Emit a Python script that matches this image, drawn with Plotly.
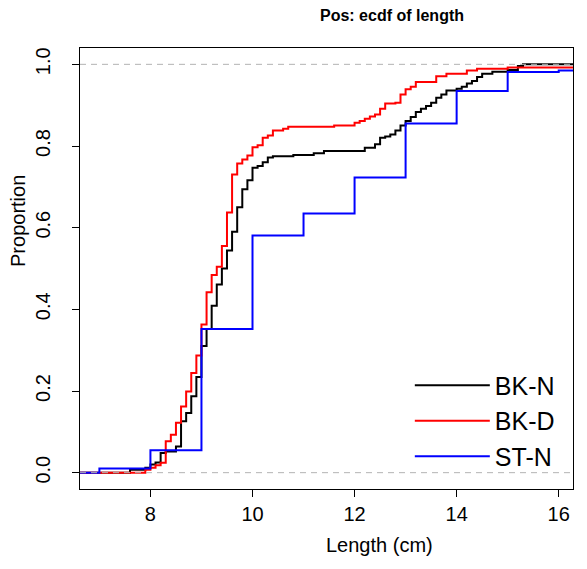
import plotly.graph_objects as go

# ---- data ----
bkn_len = [7.6, 7.9, 8.0, 8.1, 8.2, 8.3, 8.5, 8.6, 8.7, 8.8, 8.9, 9.0, 9.1, 9.2, 9.3, 9.4,
           9.5, 9.6, 9.7, 9.8, 9.9, 10.0, 10.1, 10.2, 10.3, 10.4, 10.8, 11.2, 11.4, 12.2,
           12.4, 12.5, 12.6, 12.7, 12.8, 12.9, 13.0, 13.1, 13.2, 13.3, 13.4, 13.5, 13.6,
           13.7, 13.8, 14.0, 14.1, 14.2, 14.3, 14.4, 14.5, 14.7, 15.0, 15.2, 15.3]
bkn_prop = [0.007, 0.012, 0.020, 0.025, 0.048, 0.052, 0.064, 0.126, 0.146, 0.187, 0.234,
            0.310, 0.352, 0.409, 0.461, 0.500, 0.544, 0.590, 0.650, 0.694, 0.716, 0.747,
            0.751, 0.760, 0.772, 0.775, 0.778, 0.782, 0.788, 0.796, 0.804, 0.820, 0.823,
            0.828, 0.838, 0.850, 0.861, 0.871, 0.883, 0.891, 0.898, 0.906, 0.918, 0.926,
            0.936, 0.940, 0.945, 0.953, 0.959, 0.969, 0.977, 0.982, 0.986, 0.996, 1.000]

bkd_len = [7.9, 8.0, 8.1, 8.2, 8.3, 8.4, 8.5, 8.6, 8.7, 8.8, 8.9, 9.0, 9.1, 9.2, 9.3, 9.4,
           9.5, 9.6, 9.7, 9.8, 9.9, 10.0, 10.1, 10.2, 10.3, 10.4, 10.6, 10.7, 11.6, 12.0,
           12.1, 12.2, 12.3, 12.4, 12.5, 12.6, 12.8, 12.9, 13.0, 13.1, 13.2, 13.6, 13.8,
           14.2, 14.4, 15.0]
bkd_prop = [0.007, 0.012, 0.018, 0.024, 0.077, 0.093, 0.122, 0.162, 0.199, 0.244, 0.287,
            0.363, 0.442, 0.484, 0.504, 0.555, 0.637, 0.730, 0.757, 0.767, 0.777, 0.797,
            0.802, 0.820, 0.826, 0.838, 0.842, 0.847, 0.850, 0.857, 0.861, 0.867, 0.872,
            0.877, 0.891, 0.904, 0.906, 0.926, 0.939, 0.945, 0.957, 0.971, 0.977, 0.985,
            0.989, 0.992]

stn_len = [7, 8, 9, 10, 11, 12, 13, 14, 15, 16]
stn_prop = [0.010, 0.055, 0.352, 0.581, 0.635, 0.723, 0.855, 0.935, 0.981, 0.985]

series_names = ["BK-N", "BK-D", "ST-N"]
series_colors = ["black", "#ff0000", "#0000ff"]

x_range = [6.62, 16.28]
y_range = [-0.04, 1.04]
x_ticks = [8, 10, 12, 14, 16]
y_ticks = [0.0, 0.2, 0.4, 0.6, 0.8, 1.0]

FONT = "Liberation Sans, Arial, Helvetica, sans-serif"

fig = go.Figure()
for name, color, xs, ys in zip(series_names, series_colors,
                               [bkn_len, bkd_len, stn_len],
                               [bkn_prop, bkd_prop, stn_prop]):
    # ecdf drawn as a step function extended to the plot limits
    fx = [x_range[0] - 1] + xs + [x_range[1] + 1]
    fy = [0] + ys + [ys[-1]]
    fig.add_trace(go.Scatter(x=fx, y=fy, mode="lines", name=name,
                             line=dict(color=color, width=2, shape="hv"),
                             hoverinfo="skip"))

for h in (0, 1):
    fig.add_shape(type="line", xref="paper", x0=0, x1=1, yref="y", y0=h, y1=h,
                  line=dict(color="#b3b3b3", width=1, dash="6px,5px"), layer="above")

fig.update_xaxes(range=x_range, tickvals=x_ticks, ticktext=[str(t) for t in x_ticks],
                 showline=True, mirror=True, linecolor="black", linewidth=1,
                 ticks="outside", ticklen=7, tickcolor="black", showgrid=False,
                 zeroline=False, tickfont=dict(size=20, color="black", family=FONT))
fig.update_yaxes(range=y_range, tickvals=y_ticks, ticktext=[f"{t:.1f}" for t in y_ticks],
                 tickangle=-90, showline=True, mirror=True, linecolor="black", linewidth=1,
                 ticks="outside", ticklen=7, tickcolor="black", showgrid=False,
                 ticklabelstandoff=14,
                 zeroline=False, tickfont=dict(size=20, color="black", family=FONT))

fig.add_annotation(text="<b>Pos: ecdf of length</b>", xref="paper", yref="paper",
                   x=0.633, y=1.0748, xanchor="center", yanchor="middle", showarrow=False,
                   font=dict(size=16, color="black", family=FONT))
fig.add_annotation(text="Length (cm)", xref="paper", yref="paper",
                   x=0.6085, y=-0.127, xanchor="center", yanchor="middle", showarrow=False,
                   font=dict(size=20, color="black", family=FONT))
fig.add_annotation(text="Proportion", xref="paper", yref="paper",
                   x=-0.1258, y=0.6077, xanchor="center", yanchor="middle", showarrow=False,
                   textangle=-90, font=dict(size=20, color="black", family=FONT))

fig.update_layout(
    width=587, height=569,
    margin=dict(l=80, r=14, t=48, b=80, pad=0),
    paper_bgcolor="white", plot_bgcolor="white",
    showlegend=True,
    legend=dict(x=0.669, y=0.287, xanchor="left", yanchor="top",
                bgcolor="rgba(0,0,0,0)", borderwidth=0, itemwidth=75,
                font=dict(size=25, color="black", family=FONT),
                tracegroupgap=0),
)

fig.write_html("out.html")
